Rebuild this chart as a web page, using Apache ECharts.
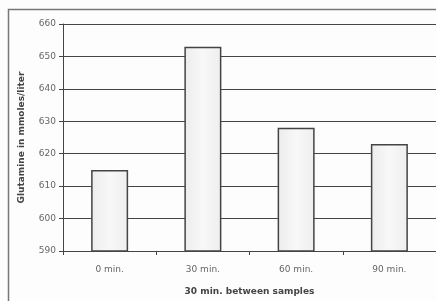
<!DOCTYPE html>
<html>
<head>
<meta charset="utf-8">
<script src="https://cdn.jsdelivr.net/npm/echarts@6/dist/echarts.min.js"></script>
<style>
html,body{margin:0;padding:0;background:#fdfdfd;}
#chart{width:436px;height:301px;}
</style>
</head>
<body>
<div id="chart"></div>
<script>
var categories = ['0 min.', '30 min.', '60 min.', '90 min.'];
var glutamine = [615, 653, 628, 623];
var yTicks = [590, 600, 610, 620, 630, 640, 650, 660];
var xTitle = '30 min. between samples';
var yTitle = 'Glutamine in mmoles/liter';

var FONT = 'DejaVu Sans, Verdana, sans-serif';
var chart = echarts.init(document.getElementById('chart'), null, {renderer: 'canvas'});
chart.setOption({
  backgroundColor: '#fdfdfd',
  animation: false,
  graphic: [{
    type: 'rect',
    shape: {x: 8.5, y: 9.5, width: 500, height: 400},
    style: {fill: null, stroke: '#777', lineWidth: 1.5},
    silent: true
  }],
  grid: {left: 63, top: 24, width: 375, height: 230},
  xAxis: {
    type: 'category',
    data: categories,
    axisLine: {show: true, lineStyle: {color: '#444', width: 1}},
    axisTick: {show: true, length: 4, lineStyle: {color: '#444'}},
    axisLabel: {color: '#666', fontSize: 9, fontFamily: FONT, margin: 14},
    name: xTitle,
    nameLocation: 'middle',
    nameGap: 36,
    nameTextStyle: {color: '#444', fontSize: 9, fontWeight: 'bold', fontFamily: FONT}
  },
  yAxis: {
    type: 'value',
    min: yTicks[0],
    max: yTicks[yTicks.length - 1],
    interval: 10,
    axisLine: {show: true, lineStyle: {color: '#444', width: 1}},
    axisTick: {show: true, length: 4, lineStyle: {color: '#444'}},
    axisLabel: {color: '#666', fontSize: 9, fontFamily: FONT, margin: 7},
    splitLine: {show: true, lineStyle: {color: '#444', width: 1}},
    name: yTitle,
    nameLocation: 'middle',
    nameGap: 37,
    nameRotate: 90,
    nameTextStyle: {color: '#444', fontSize: 9, fontWeight: 'bold', fontFamily: FONT}
  },
  series: [{
    type: 'bar',
    data: glutamine,
    barWidth: 37,
    itemStyle: {
      color: new echarts.graphic.LinearGradient(0, 0, 1, 0, [
        {offset: 0, color: '#ececec'},
        {offset: 0.5, color: '#f8f8f8'},
        {offset: 1, color: '#eeeeee'}
      ]),
      borderColor: '#444',
      borderWidth: 1.5
    }
  }]
});
</script>
</body>
</html>
